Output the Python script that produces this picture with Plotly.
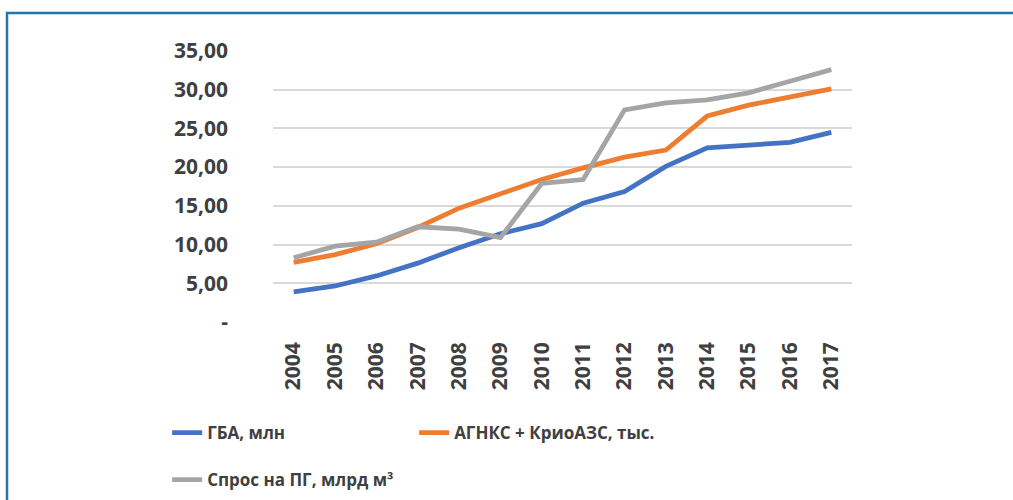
import plotly.graph_objects as go

years = ["2004", "2005", "2006", "2007", "2008", "2009", "2010",
         "2011", "2012", "2013", "2014", "2015", "2016", "2017"]
gba = [3.9, 4.65, 5.95, 7.6, 9.6, 11.4, 12.7, 15.35, 16.85, 20.1, 22.5, 22.9, 23.2, 24.5]
agnks = [7.7, 8.7, 10.1, 12.2, 14.7, 16.6, 18.4, 19.9, 21.3, 22.2, 26.6, 28.0, 29.0, 30.1]
spros = [8.3, 9.8, 10.3, 12.3, 12.0, 10.9, 17.9, 18.4, 27.4, 28.3, 28.7, 29.6, 31.1, 32.6]

names = ["ГБА, млн", "АГНКС + КриоАЗС, тыс.", "Спрос на ПГ, млрд м³"]
colors = ["#4472C4", "#ED7D31", "#A5A5A5"]

ytick_vals = [0, 5, 10, 15, 20, 25, 30, 35]
ytick_text = ["-", "5,00", "10,00", "15,00", "20,00", "25,00", "30,00", "35,00"]

FONT = "Open Sans"
TXT = "#404040"

fig = go.Figure()
for name, vals, col, lg in zip(names, [gba, agnks, spros], colors, ["legend", "legend", "legend2"]):
    fig.add_trace(go.Scatter(x=years, y=vals, name=name, mode="lines",
                             line=dict(color=col, width=4.8), legend=lg))

legend_font = dict(size=17, family=FONT, color=TXT, weight="bold")
fig.update_layout(
    width=1013, height=500,
    margin=dict(l=273, r=161, t=51, b=178),
    paper_bgcolor="white", plot_bgcolor="white",
    font=dict(family=FONT, color=TXT),
    legend=dict(orientation="h", xref="container", yref="container",
                x=0.165, xanchor="left", y=0.134, yanchor="middle",
                entrywidth=202, entrywidthmode="pixels",
                font=legend_font, bgcolor="rgba(0,0,0,0)"),
    legend2=dict(orientation="h", xref="container", yref="container",
                 x=0.165, xanchor="left", y=0.04, yanchor="middle",
                 font=legend_font, bgcolor="rgba(0,0,0,0)"),
    showlegend=True,
)
fig.update_xaxes(type="category", range=[-0.5, len(years) - 0.5], tickangle=-90,
                 showgrid=False, showline=False,
                 ticks="", ticklabelstandoff=15, automargin=False,
                 tickfont=dict(size=21, family=FONT, color=TXT, weight="bold"))
fig.update_yaxes(range=[0, 35], tickvals=ytick_vals, ticktext=ytick_text,
                 showgrid=True, gridcolor="#D9D9D9", gridwidth=1.5,
                 zeroline=False, showline=False, ticks="", ticklabelstandoff=44,
                 automargin=False,
                 tickfont=dict(size=21, family=FONT, color=TXT, weight="bold"))

# outer frame
fig.add_shape(type="rect", xref="paper", yref="paper",
              x0=-0.4594, x1=1.3, y0=-0.7, y1=1.1402,
              line=dict(color="#2178A6", width=2.5), fillcolor="rgba(0,0,0,0)", layer="below")

fig.write_html("out.html", config={"displayModeBar": False},
               post_script="document.body.style.margin='0';")
